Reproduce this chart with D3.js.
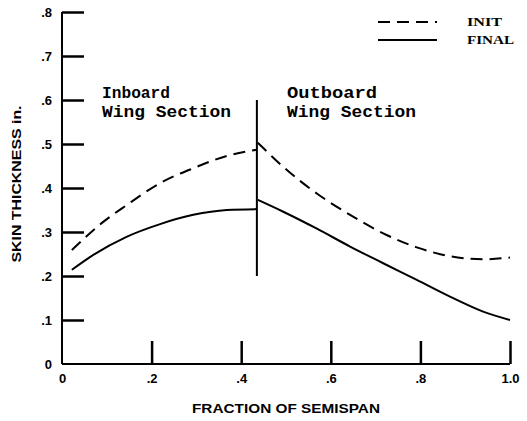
<!DOCTYPE html>
<html>
<head>
<meta charset="utf-8">
<script src="https://cdn.jsdelivr.net/npm/d3@7"></script>
<style>
  body { margin: 0; background: #fff; }
  svg { display: block; }
  .tick text { font-family: "Liberation Sans", sans-serif; font-weight: bold; font-size: 13px; fill: #000; }
</style>
</head>
<body>
<div id="chart"></div>
<script>
// data (fraction of semispan, skin thickness in.)
let initInboard = [[0.022, 0.259], [0.092, 0.323], [0.144, 0.361], [0.219, 0.411], [0.293, 0.445], [0.368, 0.473], [0.435, 0.487]]
let initOutboard = [[0.437, 0.503], [0.494, 0.448], [0.568, 0.388], [0.643, 0.339], [0.717, 0.297], [0.792, 0.265], [0.866, 0.245], [0.94, 0.238], [1.0, 0.242]]
let finalInboard = [[0.022, 0.214], [0.07, 0.248], [0.144, 0.289], [0.219, 0.318], [0.293, 0.339], [0.368, 0.35], [0.435, 0.352]]
let finalOutboard = [[0.437, 0.373], [0.494, 0.346], [0.568, 0.308], [0.643, 0.267], [0.717, 0.229], [0.792, 0.191], [0.866, 0.153], [0.94, 0.119], [1.0, 0.1]]
let divider = [[0.435, 0.2], [0.435, 0.6]]
let xTicks = [0, 0.2, 0.4, 0.6, 0.8, 1.0]
let yTicks = [0, 0.1, 0.2, 0.3, 0.4, 0.5, 0.6, 0.7, 0.8]
let legendLabels = ['INIT', 'FINAL']
let sectionLabels = [['Inboard', 'Wing Section'], ['Outboard', 'Wing Section']]

let width = 527
let height = 421

let svg = d3.select('#chart')
  .append('svg')
  .attr('width', width)
  .attr('height', height)

let xScale = d3.scaleLinear().domain([0, 1]).range([62, 510])
let yScale = d3.scaleLinear().domain([0, 0.8]).range([364, 12])

let fmt = d => (d === 0 ? '0' : d3.format('.1f')(d).replace(/^0/, ''))

// y axis, ticks point inward
let yAxis = svg.append('g')
  .attr('transform', 'translate(' + xScale(0) + ',0)')
  .call(d3.axisLeft(yScale).tickValues(yTicks).tickSize(-22).tickPadding(10).tickFormat(fmt))
yAxis.select('.domain').attr('stroke-width', 2).attr('d', 'M0,' + yScale(0.8) + 'V' + yScale(0))
yAxis.selectAll('.tick line').attr('stroke-width', 2.5)
yAxis.selectAll('.tick').filter(d => d === 0).select('line').remove()

// x axis, ticks point up
let xAxis = svg.append('g')
  .attr('transform', 'translate(0,' + yScale(0) + ')')
  .call(d3.axisBottom(xScale).tickValues(xTicks).tickSize(-23).tickPadding(7).tickFormat(fmt))
xAxis.select('.domain').attr('stroke-width', 2).attr('d', 'M' + xScale(0) + ',0H' + xScale(1))
xAxis.selectAll('.tick line').attr('stroke-width', 2.5)
xAxis.selectAll('.tick').filter(d => d === 0).select('line').remove()
xAxis.selectAll('.tick text').attr('dy', '0.9em')

// axis titles
svg.append('text')
  .attr('x', 286)
  .attr('y', 413)
  .attr('text-anchor', 'middle')
  .attr('font-family', 'Liberation Sans, sans-serif')
  .attr('font-weight', 'bold')
  .attr('font-size', 12)
  .attr('textLength', 188)
  .attr('lengthAdjust', 'spacingAndGlyphs')
  .text('FRACTION OF SEMISPAN')

svg.append('text')
  .attr('transform', 'translate(21,184) rotate(-90)')
  .attr('text-anchor', 'middle')
  .attr('font-family', 'Liberation Sans, sans-serif')
  .attr('font-weight', 'bold')
  .attr('font-size', 12)
  .attr('textLength', 157)
  .attr('lengthAdjust', 'spacingAndGlyphs')
  .text('SKIN THICKNESS in.')

// curves
let line = d3.line()
  .x(d => xScale(d[0]))
  .y(d => yScale(d[1]))
  .curve(d3.curveMonotoneX)

let series = [
  { data: initInboard, dash: '12,7' },
  { data: initOutboard, dash: '12,7' },
  { data: finalInboard, dash: null },
  { data: finalOutboard, dash: null }
]

svg.append('g')
  .selectAll('path')
  .data(series)
  .enter()
  .append('path')
  .attr('d', d => line(d.data))
  .attr('fill', 'none')
  .attr('stroke', '#000')
  .attr('stroke-width', 2)
  .attr('stroke-dasharray', d => d.dash)

// section divider
svg.append('line')
  .attr('x1', xScale(divider[0][0]))
  .attr('x2', xScale(divider[1][0]))
  .attr('y1', yScale(divider[0][1]))
  .attr('y2', yScale(divider[1][1]))
  .attr('stroke', '#000')
  .attr('stroke-width', 2)

// section labels
let secX = [102, 287]
sectionLabels.forEach((lines, i) => {
  lines.forEach((s, j) => {
    svg.append('text')
      .attr('x', secX[i])
      .attr('y', 98 + j * 19)
      .attr('font-family', 'Liberation Mono, monospace')
      .attr('font-weight', 'bold')
      .attr('font-size', 16)
      .attr('textLength', s.length === 7 ? 68 : (s.length === 8 ? 90 : 129))
      .attr('lengthAdjust', 'spacingAndGlyphs')
      .text(s)
  })
})

// legend
let legend = svg.append('g')
  .selectAll('g')
  .data(legendLabels)
  .enter()
  .append('g')
  .attr('transform', (d, i) => 'translate(378,' + (22 + i * 18) + ')')

legend.append('line')
  .attr('x1', 0)
  .attr('x2', 59)
  .attr('stroke', '#000')
  .attr('stroke-width', 2)
  .attr('stroke-dasharray', (d, i) => (i === 0 ? '12,7' : null))

legend.append('text')
  .attr('x', 89)
  .attr('dy', '0.35em')
  .attr('font-family', 'Liberation Serif, serif')
  .attr('font-weight', 'bold')
  .attr('font-size', 12)
  .attr('textLength', (d, i) => (i === 0 ? 35 : 47))
  .attr('lengthAdjust', 'spacingAndGlyphs')
  .text(d => d)
</script>
</body>
</html>
